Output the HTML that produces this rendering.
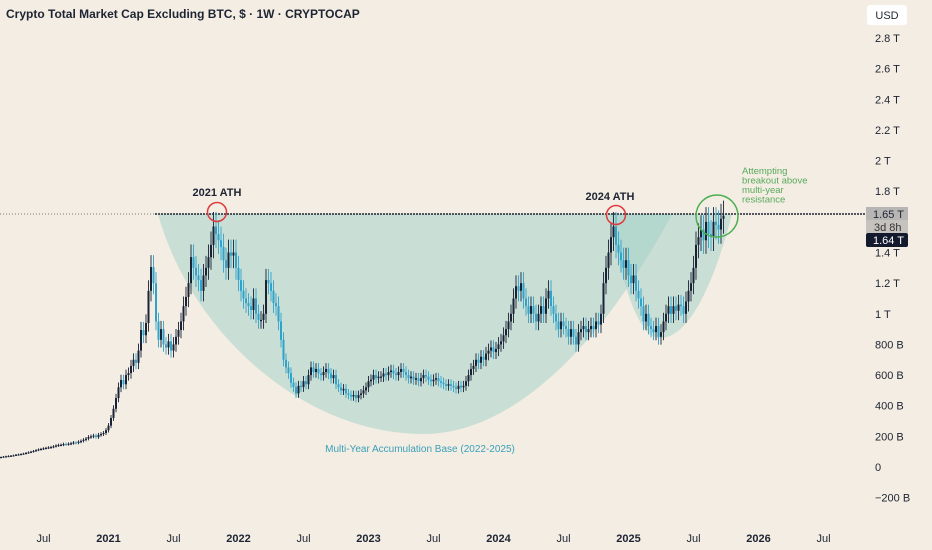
<!DOCTYPE html>
<html><head><meta charset="utf-8"><style>
body{margin:0;background:#f3ede3;}
svg{display:block;font-family:"Liberation Sans",sans-serif;}
</style></head><body>
<svg id="chart" width="932" height="550">
<rect width="932" height="550" fill="#f3ede3"/>
<g id="shade">
<path d="M158,214 C190,330 300,432 420,434 C520,436 610,330 672,214 Z" fill="#9fd0c8" fill-opacity="0.5"/>
<path d="M610,214 C622,290 640,338 660,338 C690,338 715,280 732,214 Z" fill="#9fd0c8" fill-opacity="0.5"/>
</g>
<line x1="0" y1="214" x2="155" y2="214" stroke="#777" stroke-width="1" stroke-dasharray="1,2"/>
<line x1="155" y1="214" x2="866" y2="214" stroke="#1e2433" stroke-width="1.5" stroke-dasharray="2,1"/>
<g id="candles"></g>
<g id="yaxis"></g>
<g id="xaxis"></g>
<text x="6" y="18" font-size="12" font-weight="bold" fill="#1e2433">Crypto Total Market Cap Excluding BTC, $ · 1W · CRYPTOCAP</text>
<text x="217" y="196" font-size="11" font-weight="bold" fill="#1e2433" text-anchor="middle">2021 ATH</text>
<text x="610" y="200" font-size="11" font-weight="bold" fill="#1e2433" text-anchor="middle">2024 ATH</text>
<circle cx="217" cy="212" r="9.5" fill="none" stroke="#e03a3e" stroke-width="1.5"/>
<circle cx="616" cy="215" r="9.5" fill="none" stroke="#e03a3e" stroke-width="1.5"/>
<circle cx="717" cy="216" r="21" fill="none" stroke="#4caf50" stroke-width="1.5"/>
<g font-size="9.5" fill="#5aaa5c">
<text x="742" y="174">Attempting</text><text x="742" y="183.5">breakout above</text><text x="742" y="193">multi-year</text><text x="742" y="202.5">resistance</text></g>
<text x="420" y="452" font-size="10" fill="#3aa0b8" text-anchor="middle">Multi-Year Accumulation Base (2022-2025)</text>
<rect x="867" y="5" width="40" height="20" rx="3" fill="#fff"/>
<text x="887" y="19" font-size="11" fill="#1e2433" text-anchor="middle">USD</text>
<rect x="866" y="207" width="42" height="14" fill="#b8b6b4"/>
<text x="873" y="218" font-size="11" fill="#1e2433">1.65 T</text>
<rect x="866" y="220" width="42" height="13" fill="#c6c3bf"/>
<text x="874" y="231" font-size="11" fill="#333">3d 8h</text>
<rect x="866" y="233" width="42" height="14" rx="2" fill="#131a2e"/>
<text x="873" y="244" font-size="11" fill="#fff">1.64 T</text>
</svg>
<script>
const closes = [65,68,70,72,74,76,80,82,85,88,92,96,100,105,110,115,118,122,125,128,130,135,140,144,145,150,148,152,155,160,158,165,170,178,185,196,200,205,195,210,215,222,240,270,320,380,450,520,568,540,600,613,660,700,680,760,894,860,940,1150,1305,1200,950,830,900,800,780,820,760,800,850,894,950,1050,1110,1200,1370,1300,1250,1220,1150,1250,1300,1370,1450,1570,1520,1480,1436,1350,1300,1400,1380,1400,1300,1220,1150,1100,1070,1050,1025,1100,1000,960,960,1000,1220,1200,1150,1070,1050,950,830,700,650,613,550,522,480,530,522,560,540,600,650,620,640,610,600,620,640,610,580,600,540,520,500,510,480,470,460,470,450,470,480,500,520,560,570,600,580,590,590,610,600,620,630,610,600,620,640,620,600,580,590,570,580,560,580,600,590,570,560,570,580,560,550,540,530,540,530,520,510,530,520,530,560,600,640,660,700,680,720,700,740,760,780,750,770,800,820,860,900,950,1000,1100,1180,1150,1200,1100,1050,1000,1050,1000,950,1000,1050,1000,1100,1150,1050,1000,950,900,950,920,900,850,900,850,800,880,900,920,880,900,920,900,950,930,1000,1200,1300,1400,1500,1570,1450,1400,1350,1300,1350,1250,1200,1250,1150,1100,1050,950,1000,920,900,880,920,850,880,950,1000,1050,1000,1050,1020,1060,1050,1000,1080,1150,1200,1300,1450,1500,1550,1480,1600,1520,1500,1600,1580,1550,1620,1640];
const firstOpen = 63;
const yTickValues = [-200,0,200,400,600,800,1000,1200,1400,1800,2000,2200,2400,2600,2800];
const yTickLabels = ["−200 B","0","200 B","400 B","600 B","800 B","1 T","1.2 T","1.4 T","1.8 T","2 T","2.2 T","2.4 T","2.6 T","2.8 T"];
const xTickLabels = ["Jul","2021","Jul","2022","Jul","2023","Jul","2024","Jul","2025","Jul","2026","Jul"];
const xTickWeeks = [17,43,69,95,121,147,173,199,225,251,277,303,329];
const xTickBold = [0,1,0,1,0,1,0,1,0,1,0,1,0];

const NS="http://www.w3.org/2000/svg";
const yOf = v => 467 - v*0.1532;
const xOf = i => 1 + i*2.5;
const cg=document.getElementById('candles');
for(let i=0;i<closes.length;i++){
  const o = i===0?firstOpen:closes[i-1], c=closes[i];
  const up = c>=o;
  const col = up?'#1a2236':'#2ea3cc';
  const hi = Math.max(o,c)*1.06, lo=Math.min(o,c)*0.94;
  const x=xOf(i);
  const w=document.createElementNS(NS,'line');
  
  
  w.setAttribute('x1',x);w.setAttribute('x2',x);w.setAttribute('y1',yOf(hi));w.setAttribute('y2',yOf(lo));
  w.setAttribute('stroke',col);w.setAttribute('stroke-width','0.9');
  cg.appendChild(w);
  const b=document.createElementNS(NS,'rect');
  
  
  const t=yOf(Math.max(o,c)), bt=yOf(Math.min(o,c));
  b.setAttribute('x',x-1);b.setAttribute('width',2);b.setAttribute('y',t);b.setAttribute('height',Math.max(1.2,bt-t));
  b.setAttribute('fill',col);
  cg.appendChild(b);
}
const ya=document.getElementById('yaxis');
yTickValues.forEach((v,k)=>{
  const t=document.createElementNS(NS,'text');
  
  
  t.setAttribute('x',875);t.setAttribute('y',yOf(v)+4);
  t.setAttribute('font-size','11');t.setAttribute('fill','#1e2433');
  t.textContent=yTickLabels[k];ya.appendChild(t);
});
const xa=document.getElementById('xaxis');
xTickLabels.forEach((l,k)=>{
  const t=document.createElementNS(NS,'text');
  
  
  t.setAttribute('x',xOf(xTickWeeks[k]));t.setAttribute('y',542);
  t.setAttribute('font-size','11');t.setAttribute('text-anchor','middle');t.setAttribute('fill','#1e2433');
  if(xTickBold[k])t.setAttribute('font-weight','bold');
  t.textContent=l;xa.appendChild(t);
});
</script>
</body></html>
